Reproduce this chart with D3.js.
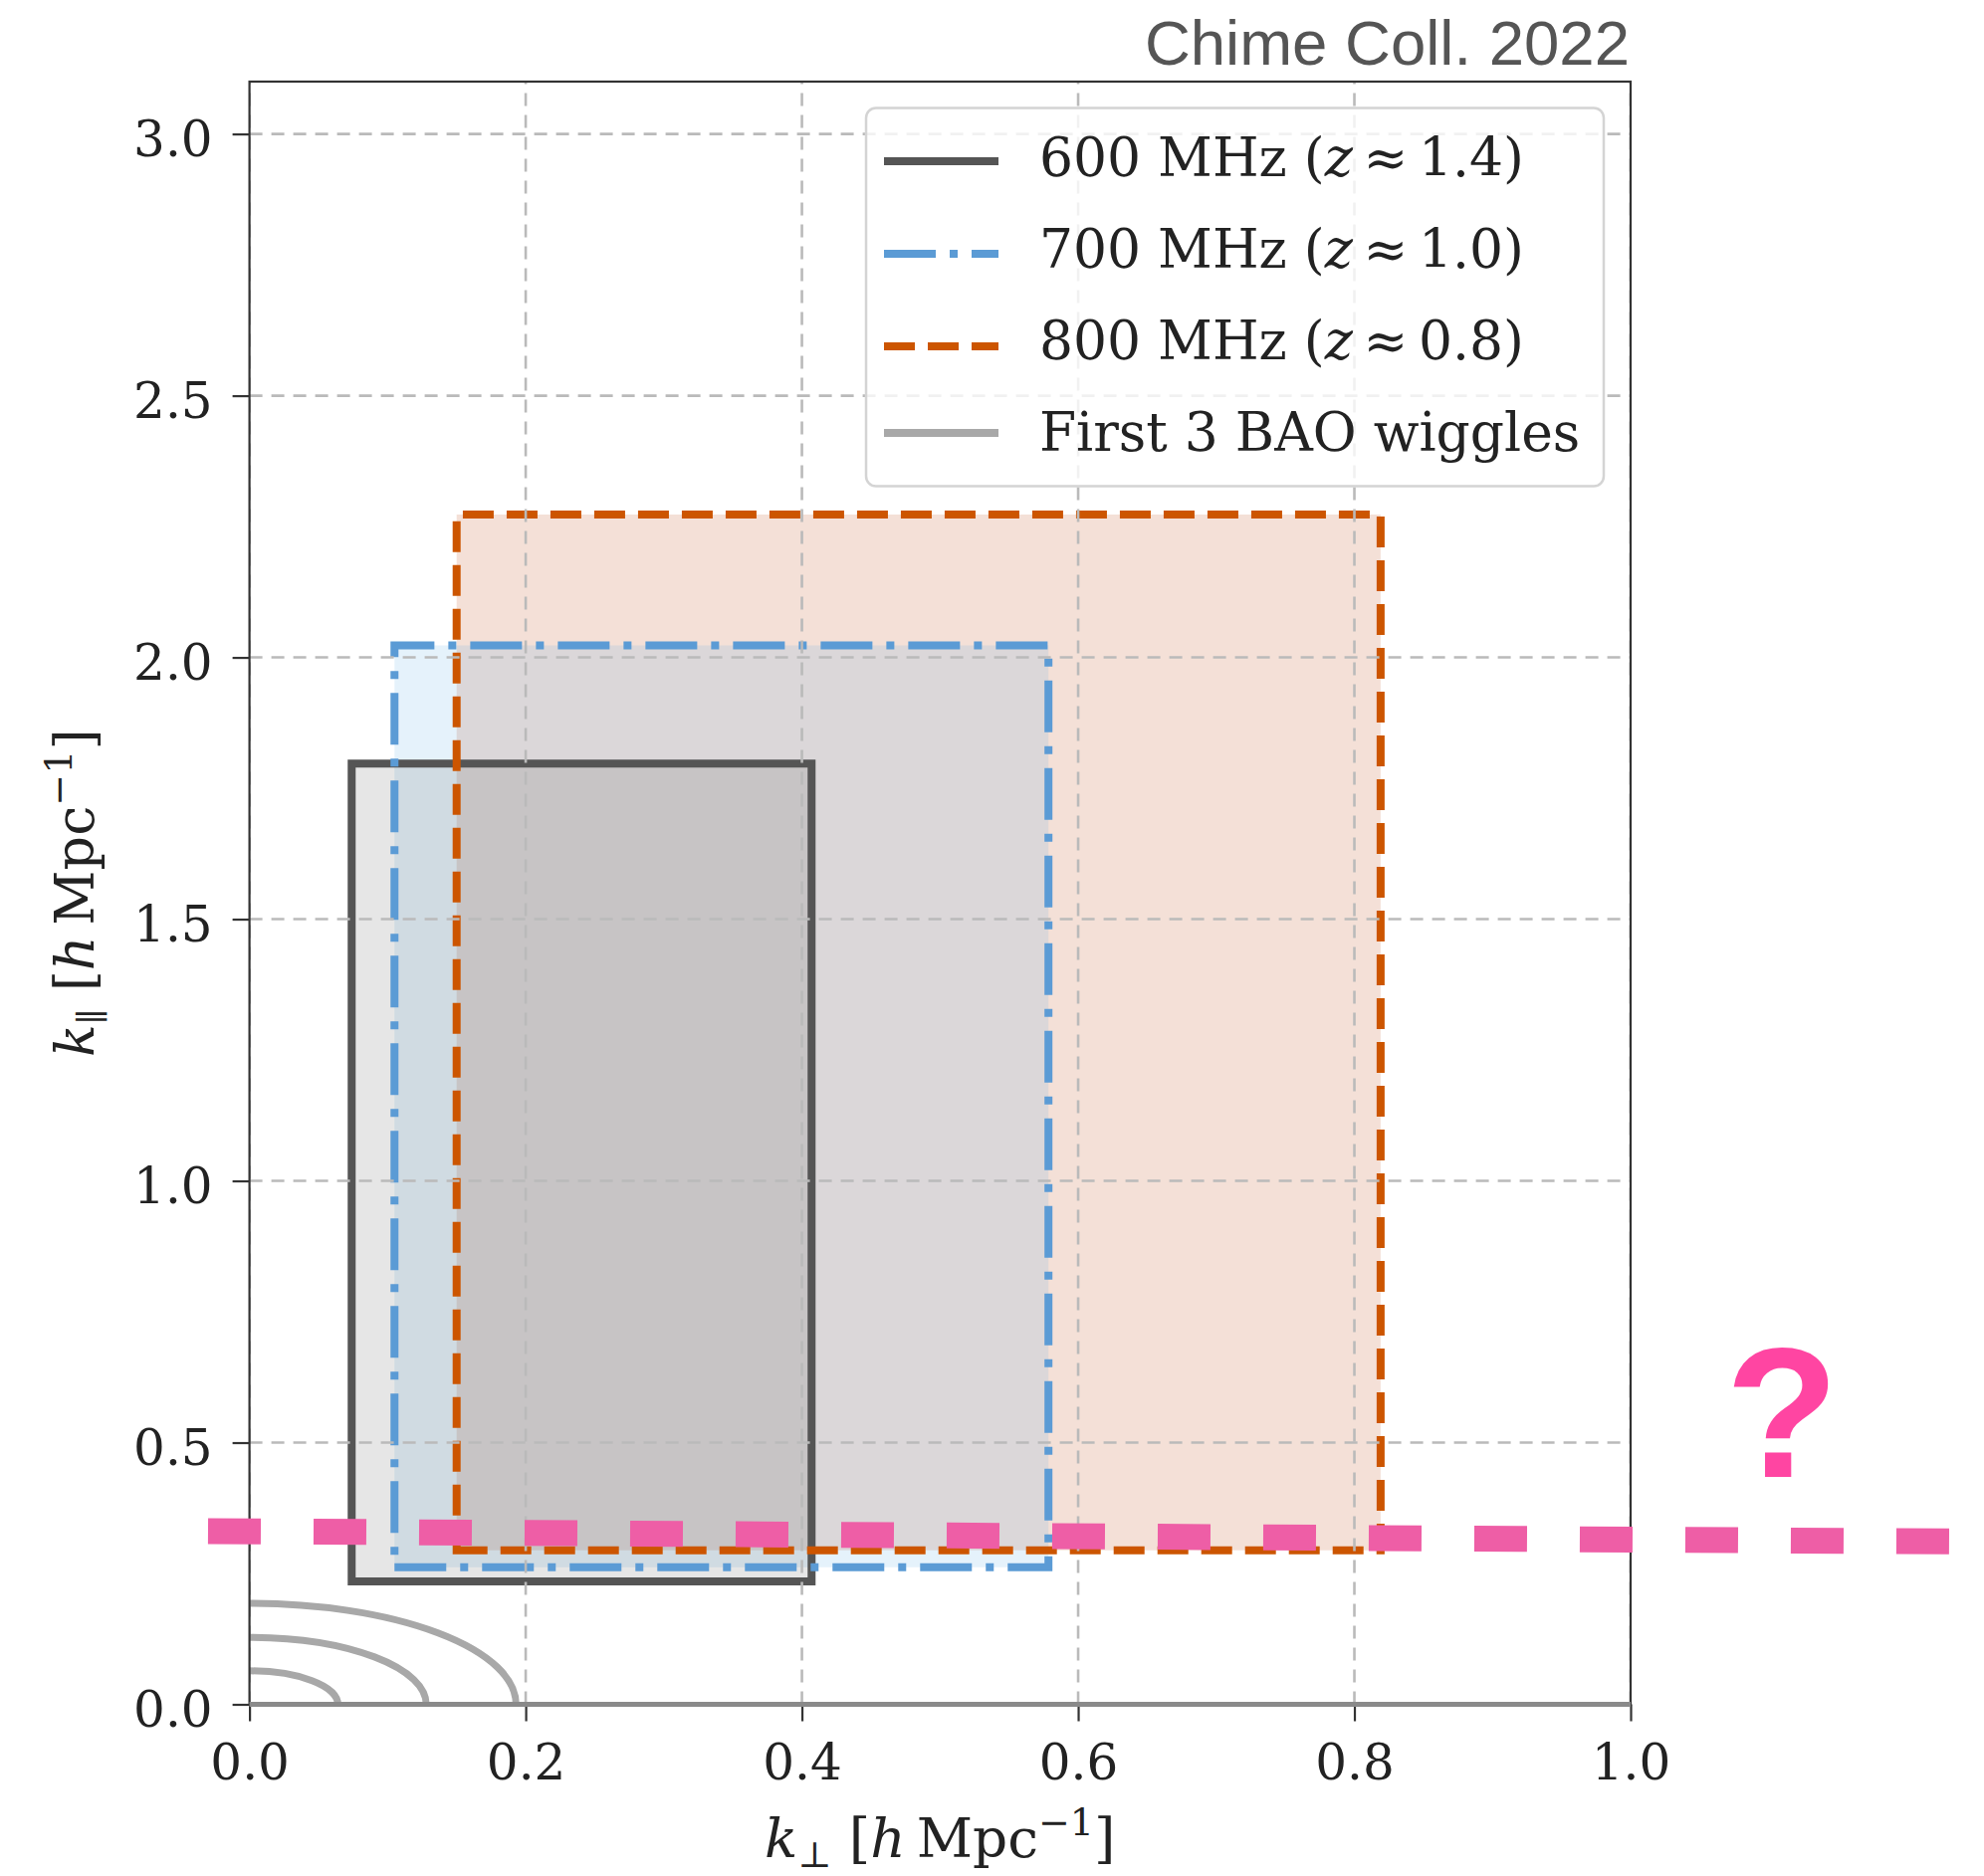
<!DOCTYPE html>
<html>
<head>
<meta charset="utf-8">
<script src="https://cdn.jsdelivr.net/npm/d3@7"></script>
<style>
  body { margin: 0; background: #fff; }
  svg { display: block; }
</style>
</head>
<body>
<svg id="chart"></svg>
<script>
// CHIME frequency bands and the k-space box each one covers [h/Mpc]
var bands = ["600 MHz", "700 MHz", "800 MHz"];
var redshifts = ["1.4", "1.0", "0.8"];
var kperpMin = [0.074, 0.105, 0.150];
var kperpMax = [0.407, 0.5785, 0.819];
var kparMin = [0.235, 0.262, 0.294];
var kparMax = [1.797, 2.023, 2.273];

// first 3 BAO wiggles, |k| [h/Mpc]
var baoK = [0.064, 0.128, 0.193];

var xTicks = [0.0, 0.2, 0.4, 0.6, 0.8, 1.0];
var yTicks = [0.0, 0.5, 1.0, 1.5, 2.0, 2.5, 3.0];

// pink dashed mark drawn over the figure (k_perp, k_par at its two ends)
var markKperp = [-0.030, 1.2375];
var markKpar = [0.331, 0.311];

var W = 1993, H = 1885;
var margin = {top: 82, right: 355, bottom: 172.5, left: 250.6};
var serif = "'DejaVu Serif', serif";

var edgeColors = ["#555555", "#5b9bd5", "#cc5500"];
var fillColors = ["rgba(85,85,85,0.15)", "rgba(80,170,225,0.15)", "rgba(194,83,35,0.18)"];
var dashes = [null, "52,14,8,14", "31,13"];

var svg = d3.select("#chart").attr("width", W).attr("height", H);

var x = d3.scaleLinear().domain([0, 1]).range([margin.left, W - margin.right]);
var y = d3.scaleLinear().domain([0, 3.1]).range([H - margin.bottom, margin.top]);

svg.append("defs").append("clipPath").attr("id", "plotclip")
  .append("rect")
    .attr("x", x(0)).attr("y", y(3.1))
    .attr("width", x(1) - x(0)).attr("height", y(0) - y(3.1));

var plot = svg.append("g").attr("clip-path", "url(#plotclip)");

function boxPath(i) {
  var x0 = x(kperpMin[i]), x1 = x(kperpMax[i]),
      y0 = y(kparMin[i]), y1 = y(kparMax[i]);
  // same order as a matplotlib Rectangle: bottom-left, bottom-right, top-right, top-left
  return "M" + x0 + "," + y0 + "L" + x1 + "," + y0 + "L" + x1 + "," + y1 + "L" + x0 + "," + y1 + "Z";
}

var idx = d3.range(bands.length);

// fills
plot.selectAll(".boxfill")
    .data(idx.slice().reverse())
  .enter().append("path")
    .attr("class", "boxfill")
    .attr("d", boxPath)
    .attr("fill", function(i) { return fillColors[i]; })
    .attr("stroke", "none");

// edges
plot.selectAll(".boxedge")
    .data(idx)
  .enter().append("path")
    .attr("class", "boxedge")
    .attr("d", boxPath)
    .attr("fill", "none")
    .attr("stroke", function(i) { return edgeColors[i]; })
    .attr("stroke-width", 8)
    .attr("stroke-linejoin", "miter")
    .attr("stroke-dasharray", function(i) { return dashes[i]; });

// grid
plot.selectAll(".vgrid")
    .data(xTicks)
  .enter().append("line")
    .attr("class", "vgrid")
    .attr("x1", function(d) { return x(d); }).attr("x2", function(d) { return x(d); })
    .attr("y1", y(0)).attr("y2", y(3.1))
    .attr("stroke", "#bababa").attr("stroke-width", 2.6).attr("stroke-dasharray", "13,9");
plot.selectAll(".hgrid")
    .data(yTicks)
  .enter().append("line")
    .attr("class", "hgrid")
    .attr("x1", x(0)).attr("x2", x(1))
    .attr("y1", function(d) { return y(d); }).attr("y2", function(d) { return y(d); })
    .attr("stroke", "#bababa").attr("stroke-width", 2.6).attr("stroke-dasharray", "13,9");

// BAO wiggles: circles of constant |k|, seen as ellipses
plot.selectAll(".bao")
    .data(baoK)
  .enter().append("ellipse")
    .attr("class", "bao")
    .attr("cx", x(0)).attr("cy", y(0))
    .attr("rx", function(d) { return x(d) - x(0); })
    .attr("ry", function(d) { return y(0) - y(d); })
    .attr("fill", "none")
    .attr("stroke", "#a8a8a8")
    .attr("stroke-width", 7);

// axes
var gx = svg.append("g")
    .attr("transform", "translate(0," + y(0) + ")")
    .call(d3.axisBottom(x).tickValues(xTicks).tickFormat(d3.format(".1f")).tickSize(17).tickPadding(23));
gx.select(".domain").remove();
gx.attr("font-family", serif).attr("font-size", 50);
gx.selectAll(".tick line").attr("stroke", "#333").attr("stroke-width", 2.2);
gx.selectAll(".tick text").attr("fill", "#222");

var gy = svg.append("g")
    .attr("transform", "translate(" + x(0) + ",0)")
    .call(d3.axisLeft(y).tickValues(yTicks).tickFormat(d3.format(".1f")).tickSize(17).tickPadding(20));
gy.select(".domain").remove();
gy.attr("font-family", serif).attr("font-size", 50);
gy.selectAll(".tick line").attr("stroke", "#333").attr("stroke-width", 2.2);
gy.selectAll(".tick text").attr("fill", "#222").attr("dy", "0.44em");

// spines
svg.append("rect")
    .attr("x", x(0)).attr("y", y(3.1))
    .attr("width", x(1) - x(0)).attr("height", y(0) - y(3.1))
    .attr("fill", "none").attr("stroke", "#333").attr("stroke-width", 2.2);

// zero line along k_par = 0
svg.append("line")
    .attr("x1", x(0)).attr("x2", x(1))
    .attr("y1", y(0)).attr("y2", y(0))
    .attr("stroke", "#8a8a8a").attr("stroke-width", 5);

// axis labels
var xl = svg.append("text")
    .attr("x", (x(0) + x(1)) / 2).attr("y", 1866)
    .attr("text-anchor", "middle")
    .attr("font-family", serif).attr("font-size", 55).attr("fill", "#222");
xl.append("tspan").attr("font-style", "italic").text("k");
xl.append("tspan").attr("font-size", 36).attr("dy", 10).text("\u22a5");
xl.append("tspan").attr("dy", -10).text(" [");
xl.append("tspan").attr("font-style", "italic").text("h");
xl.append("tspan").text("\u2009Mpc");
xl.append("tspan").attr("font-size", 38).attr("dy", -22).text("\u22121");
xl.append("tspan").attr("dy", 22).text("]");

var yl = svg.append("text")
    .attr("transform", "translate(94," + (y(0) + y(3.1)) / 2 + ") rotate(-90)")
    .attr("text-anchor", "middle")
    .attr("font-family", serif).attr("font-size", 54).attr("fill", "#222");
yl.append("tspan").attr("font-style", "italic").text("k");
yl.append("tspan").attr("font-size", 34).attr("dy", 10).text("\u2225");
yl.append("tspan").attr("dy", -10).text(" [");
yl.append("tspan").attr("font-style", "italic").text("h");
yl.append("tspan").text("\u2009Mpc");
yl.append("tspan").attr("font-size", 38).attr("dy", -22).text("\u22121");
yl.append("tspan").attr("dy", 22).text("]");

// legend
var legend = svg.append("g");
legend.append("rect")
    .attr("x", 870).attr("y", 108.5).attr("width", 741).attr("height", 380)
    .attr("rx", 10).attr("ry", 10)
    .attr("fill", "rgba(255,255,255,0.8)")
    .attr("stroke", "#d4d4d4").attr("stroke-width", 2.5);

var rowY = [162, 255, 348, 435];
var rowBase = [177, 269, 361, 453];

idx.forEach(function(i) {
  legend.append("line")
      .attr("x1", 888).attr("x2", 1003)
      .attr("y1", rowY[i]).attr("y2", rowY[i])
      .attr("stroke", edgeColors[i]).attr("stroke-width", 8)
      .attr("stroke-dasharray", dashes[i]);
  var t = legend.append("text")
      .attr("x", 1044).attr("y", rowBase[i])
      .attr("font-family", serif).attr("font-size", 53.5).attr("fill", "#222");
  t.append("tspan").text(bands[i] + " (");
  t.append("tspan").attr("font-style", "italic").text("z");
  t.append("tspan").text("\u2009\u2248\u2009" + redshifts[i] + ")");
});
legend.append("line")
    .attr("x1", 888).attr("x2", 1003)
    .attr("y1", rowY[3]).attr("y2", rowY[3])
    .attr("stroke", "#a8a8a8").attr("stroke-width", 8);
legend.append("text")
    .attr("x", 1044).attr("y", rowBase[3])
    .attr("font-family", serif).attr("font-size", 53.5).attr("fill", "#222")
    .text("First " + baoK.length + " BAO wiggles");

// title
svg.append("text")
    .attr("x", 1637).attr("y", 65)
    .attr("text-anchor", "end")
    .attr("font-family", "'Liberation Sans', Arial, sans-serif")
    .attr("font-size", 63.5).attr("fill", "#555")
    .text("Chime Coll. 2022");

// pink mark and question mark
svg.append("line")
    .attr("x1", x(markKperp[0])).attr("y1", y(markKpar[0]))
    .attr("x2", x(markKperp[1])).attr("y2", y(markKpar[1]))
    .attr("stroke", "#ee5ea6").attr("stroke-width", 26)
    .attr("stroke-dasharray", "53,53");
svg.append("text")
    .attr("x", 1790).attr("y", 1484)
    .attr("text-anchor", "middle")
    .attr("font-family", "'Liberation Sans', Arial, sans-serif")
    .attr("font-weight", "bold")
    .attr("font-size", 186).attr("fill", "#ff45a2")
    .text("?");
</script>
</body>
</html>
